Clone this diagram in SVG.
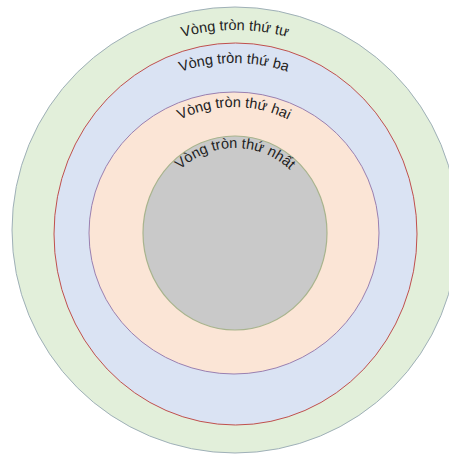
<svg xmlns="http://www.w3.org/2000/svg" xmlns:xlink="http://www.w3.org/1999/xlink" width="449" height="456" viewBox="0 0 449 456">
<style>
.lbl{font-family:"Liberation Sans","DejaVu Sans",sans-serif;font-size:14.5px;fill:#222}
</style>
<defs>
<path id="a1" d="M 33,232 A 202,202 0 0 1 437,232"/>
<path id="a2" d="M 65,232 A 169,169 0 0 1 403,232"/>
<path id="a3" d="M 112,229 A 122,122 0 0 1 356,229"/>
<path id="a4" d="M 155,228 A 80,80 0 0 1 315,228"/>
</defs>
<rect width="449" height="456" fill="#ffffff"/>
<g id="circle4">
<ellipse cx="235" cy="230" rx="223" ry="223" fill="#e2efda" stroke="#9fb0b8" stroke-width="1"/>
</g>
<g id="circle3">
<ellipse cx="235.5" cy="234" rx="181.5" ry="191" fill="#dae3f3" stroke="#c0504d" stroke-width="1"/>
</g>
<g id="circle2">
<ellipse cx="234" cy="233" rx="145" ry="141" fill="#fbe5d6" stroke="#9a80b0" stroke-width="1"/>
</g>
<g id="circle1">
<ellipse cx="235" cy="233" rx="92" ry="97" fill="#c9c9c9" stroke="#a8b48e" stroke-width="1.2"/>
</g>
<g id="labels">
<text class="lbl"><textPath xlink:href="#a1" startOffset="50%" text-anchor="middle">Vòng tròn thứ tư</textPath></text>
<text class="lbl"><textPath xlink:href="#a2" startOffset="50%" text-anchor="middle">Vòng tròn thứ ba</textPath></text>
<text class="lbl"><textPath xlink:href="#a3" startOffset="50%" text-anchor="middle">Vòng tròn thứ hai</textPath></text>
<text class="lbl"><textPath xlink:href="#a4" startOffset="50%" text-anchor="middle">Vòng tròn thứ nhất</textPath></text>
</g>
</svg>
